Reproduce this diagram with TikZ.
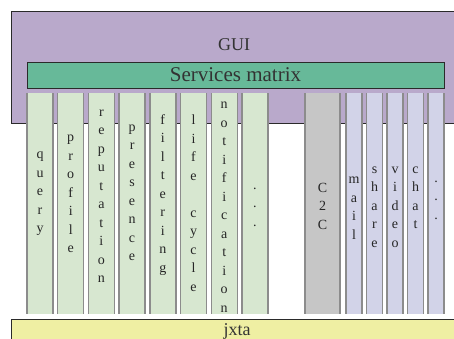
\documentclass[tikz,border=0pt]{standalone}
\usepackage{fontspec}
\setmainfont{Liberation Serif}
\definecolor{guic}{HTML}{B9A9CB}
\definecolor{smc}{HTML}{67B999}
\definecolor{colg}{HTML}{D7E7D0}
\definecolor{colgray}{HTML}{C6C6C6}
\definecolor{colb}{HTML}{D2D3E8}
\definecolor{jxc}{HTML}{EFEFA3}
\definecolor{bord}{HTML}{8C8C8C}
\definecolor{edge}{HTML}{2A2A2A}
\begin{document}
\begin{tikzpicture}[x=1pt,y=-1pt,
  every node/.style={inner sep=0pt, outer sep=0pt},
  colbox/.style={minimum height=221pt, anchor=north west},
  vtext/.style={align=center, font=\fontsize{14}{18.5}\selectfont, text=black!85},
  sideline/.style={draw=bord, line width=1.4pt}]
\useasboundingbox (0,0) rectangle (454,338);
\clip (0,0) rectangle (454,338);
\fill[white] (0,0) rectangle (454,338);
% GUI
\node[fill=guic, draw=edge, line width=1pt, anchor=north west, minimum width=470pt, minimum height=112pt] (gui) at (11,11) {};
\node[font=\fontsize{18}{20}\selectfont, text=black!80] (guit) at (234,45) {GUI};
% services matrix
\node[fill=smc, draw=edge, line width=0.9pt, anchor=north west, minimum width=417pt, minimum height=26pt] (sm) at (27,62) {};
\node[font=\fontsize{21}{22}\selectfont, text=black!80] (smt) at (sm.center) {Services matrix};
% jxta
\node[fill=jxc, draw=edge, line width=1pt, anchor=north west, minimum width=470pt, minimum height=40pt] (jx) at (11,319) {};
\node[font=\fontsize{18}{20}\selectfont, text=black!80] (jxt) at (237,331) {jxta};
% left columns
\node[colbox, fill=colg, minimum width=26pt] (c1) at (27,93) {};
\node[colbox, fill=colg, minimum width=26pt] (c2) at (57.7,93) {};
\node[colbox, fill=colg, minimum width=26pt] (c3) at (88.4,93) {};
\node[colbox, fill=colg, minimum width=26pt] (c4) at (119.1,93) {};
\node[colbox, fill=colg, minimum width=26pt] (c5) at (149.8,93) {};
\node[colbox, fill=colg, minimum width=26pt] (c6) at (180.5,93) {};
\node[colbox, fill=colg, minimum width=26pt] (c7) at (211.2,93) {};
\node[colbox, fill=colg, minimum width=26pt] (c8) at (241.9,93) {};
% right columns
\node[colbox, fill=colgray, minimum width=35pt] (r0) at (305,93) {};
\node[colbox, fill=colb, minimum width=16pt] (r1) at (346,93) {};
\node[colbox, fill=colb, minimum width=16pt] (r2) at (366.5,93) {};
\node[colbox, fill=colb, minimum width=16pt] (r3) at (387,93) {};
\node[colbox, fill=colb, minimum width=16pt] (r4) at (407.5,93) {};
\node[colbox, fill=colb, minimum width=16pt] (r5) at (428,93) {};
% side lines
\foreach \n in {c1,c2,c3,c4,c5,c6,c7,c8,r0,r1,r2,r3,r4,r5}{
  \draw[sideline] (\n.north west) -- (\n.south west);
  \draw[sideline] (\n.north east) -- (\n.south east);
}
% texts
\node[vtext] (t1) at (c1.center |- 0,194) {q\\u\\e\\r\\y};
\node[vtext] (t2) at (c2.center |- 0,194) {p\\r\\o\\f\\i\\l\\e};
\node[vtext] (t3) at (c3.center |- 0,196) {r\\e\\p\\u\\t\\a\\t\\i\\o\\n};
\node[vtext] (t4) at (c4.center |- 0,193) {p\\r\\e\\s\\e\\n\\c\\e};
\node[vtext] (t5) at (c5.center |- 0,195) {f\\i\\l\\t\\e\\r\\i\\n\\g};
\node[vtext] (t6) at (c6.center |- 0,203) {l\\i\\f\\e\\[18.5pt]c\\y\\c\\l\\e};
\node[vtext] (t7) at (c7.center |- 0,207) {n\\o\\t\\i\\f\\i\\c\\a\\t\\i\\o\\n};
\node[vtext] (t8) at (c8.center |- 0,207) {.\\.\\.};
\node[vtext] (u0) at (r0.center |- 0,206) {C\\2\\C};
\node[vtext] (u1) at (r1.center |- 0,208) {m\\a\\i\\l};
\node[vtext] (u2) at (r2.center |- 0,207) {s\\h\\a\\r\\e};
\node[vtext] (u3) at (r3.center |- 0,207) {v\\i\\d\\e\\o};
\node[vtext] (u4) at (r4.center |- 0,198) {c\\h\\a\\t};
\node[vtext] (u5) at (r5.center |- 0,200) {.\\.\\.};
\end{tikzpicture}
\end{document}
